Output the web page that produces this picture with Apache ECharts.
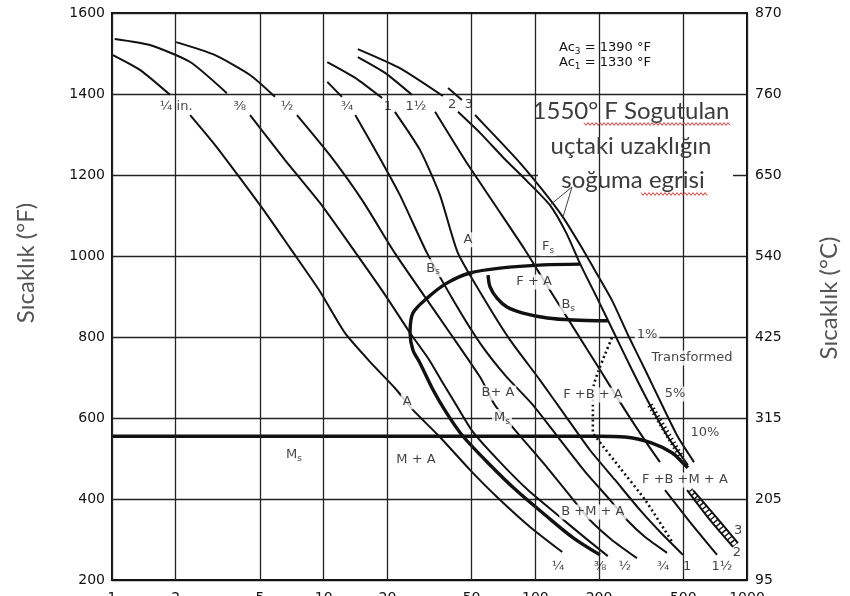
<!DOCTYPE html>
<html>
<head>
<meta charset="utf-8">
<script src="https://cdn.jsdelivr.net/npm/echarts/dist/echarts.min.js"></script>
<style>
  html, body { margin: 0; padding: 0; background: #fff; }
  #chart { width: 850px; height: 596px; }
</style>
</head>
<body>
<div id="chart"></div>
<script>
// Time grid (s, log scale) and °C labels for the right-hand axis
const timeGrid = [1, 2, 5, 10, 20, 50, 100, 200, 500, 1000];
const celsiusLabels = ['95', '205', '315', '425', '540', '650', '760', '870'];

// Jominy cooling curves: [time s, temperature °F], split where a label sits on the curve
const coolQuarter = [
  [[1.01,1496],[1.36,1459],[1.88,1398]],
  [[2.34,1348],[3.07,1274],[4.02,1193],[5.28,1109],[6.93,1020],[9.51,916],[12.6,810],[16.6,738],[21.7,674],[26.4,620],[35.4,553],[49.1,472],[65.9,405],[94.4,331],[134,269]]
];
const coolThreeEighths = [
  [[1.03,1536],[1.51,1521],[2.34,1479],[3.49,1402]],
  [[4.49,1348],[6.57,1237],[9.61,1131],[14.2,1007],[19.5,904],[25.6,810],[31.1,748],[37.0,682],[43.1,625],[50.8,565],[68.1,491],[92.3,422],[127,361],[172,304],[220,259]]
];
const coolHalf = [
  [[2.01,1528],[3.07,1496],[4.49,1447],[5.89,1393]],
  [[7.48,1348],[10.7,1249],[15.2,1138],[21.7,1007],[30.1,899],[39.5,810],[54.8,701],[63.8,635],[68.1,615],[80.2,570],[111,484],[151,398],[181,348],[230,299],[302,254]]
];
const coolThreeQuarter = [
  [[10.4,1430],[12.2,1393]],
  [[14.1,1348],[18.1,1249],[22.9,1151],[30.8,1007],[41.7,884],[54.8,785],[71.9,706],[97.5,632],[131,546],[172,467],[225,398],[271,348],[330,306],[419,267]]
];
const coolOne = [
  [[10.4,1479],[14.1,1440],[18.9,1390]],
  [[21.7,1356],[28.5,1262],[35.4,1151],[43.1,1007],[57.8,891],[75.9,793],[105,694],[138,607],[181,521],[238,447],[312,373],[388,319],[498,262]]
];
const coolOneHalf = [
  [[14.5,1491],[19.5,1452],[26.1,1398]],
  [[33.6,1356],[46.5,1237],[64.5,1126],[89.4,1015],[117,916],[154,817],[202,719],[265,620],[341,533],[388,491]],
  [[410,422],[538,343],[722,262]]
];
const coolTwo = [
  [[14.5,1511],[22.9,1464],[36.6,1395]],
  [[43.1,1356],[54.8,1304],[70.3,1244],[91.3,1185],[117,1126],[140,1057],[163,980],[198,891],[238,805],[286,719],[348,632],[423,553],[526,484]],
  [[521,422],[669,348],[859,282]]
];
const coolThree = [
  [[38.7,1415],[45.0,1385]],
  [[51.9,1348],[65.9,1291],[84.6,1230],[108,1163],[135,1096],[163,1027],[191,965],[230,891],[274,805],[330,719],[397,632],[472,553],[562,491]],
  [[556,422],[714,356],[907,291]]
];

// Transformation boundaries
const bainiteStart = [[163,980],[109,978],[68.1,970],[49.1,958],[38.2,933],[30.8,896],[26.4,859],[25.6,810],[26.4,768],[28.5,736],[32.9,669],[37.8,615],[45.0,558],[59.8,489],[81.0,422],[111,361],[151,304],[202,262]];
const ferriteBainite = [[59.8,953],[61.1,924],[65.9,896],[73.5,874],[87.4,859],[114,847],[151,842],[220,840]];
const martensiteStart = [[1,555],[202,555],[265,553],[356,538],[442,514],[498,489],[526,477]];
const transformedLine = [[230,798],[213,756],[198,714],[189,682],[187,627],[187,566],[198,546],[251,477],[330,398],[447,291]];
const hatchUpper = [[348,632],[493,501]];
const hatchLower = [[538,422],[878,286]];

// Region labels inside the diagram: [time, temp, text]
const regionLabels = [
  [48, 1040, 'A'], [32.9, 970, 'B{s|s}'], [115, 1022, 'F{s|s}'], [98.6, 936, 'F + A'],
  [143, 879, 'B{s|s}'], [337, 805, '1%'], [550, 748, 'Transformed'], [66.6, 662, 'B+ A'],
  [69.6, 600, 'M{s|s}'], [187, 657, 'F +B + A'], [457, 659, '5%'], [24.8, 640, 'A'],
  [7.24, 509, 'M{s|s}'], [27.3, 496, 'M + A'], [633, 563, '10%'], [509, 447, 'F +B +M + A'],
  [187, 368, 'B +M + A']
];
// Distance labels of the cooling curves (top and bottom ends)
const distanceLabels = [
  [2.01, 1368, '¼ in.'], [4.02, 1368, '⅜'], [6.71, 1368, '½'], [12.9, 1368, '¾'],
  [20.1, 1368, '1'], [27.3, 1368, '1½'], [40.4, 1375, '2'], [48.6, 1375, '3'],
  [128, 232, '¼'], [202, 232, '⅜'], [265, 232, '½'], [401, 232, '¾'],
  [521, 232, '1'], [762, 232, '1½'], [897, 267, '2'], [907, 323, '3']
];

const INK = '#111';
const GRID = '#222';
const series = [];

// vertical grid lines with the time labels under the axis
series.push({
  type: 'line', data: [], z: 1, silent: true,
  markLine: {
    silent: true, symbol: ['none', 'none'], animation: false,
    lineStyle: { color: GRID, width: 1.3, type: 'solid' },
    label: { show: true, position: 'start', distance: 11, formatter: '{b}',
             fontFamily: 'DejaVu Sans', fontSize: 14, color: INK },
    data: timeGrid.map(v => ({ xAxis: v, name: String(v) }))
  }
});

function addCurve(segments, width, extra) {
  segments.forEach(seg => {
    series.push(Object.assign({
      type: 'line', data: seg, showSymbol: false, symbol: 'none', smooth: 0.2,
      silent: true, z: 3,
      lineStyle: { color: INK, width: width }
    }, extra || {}));
  });
}

[coolQuarter, coolThreeEighths, coolHalf, coolThreeQuarter, coolOne, coolOneHalf, coolTwo, coolThree]
  .forEach(c => addCurve(c, 2));
addCurve([bainiteStart], 3.4, { smooth: 0.3 });
addCurve([ferriteBainite], 3.4, { smooth: 0.3 });
addCurve([martensiteStart], 3.6, { smooth: 0.4 });
addCurve([transformedLine], 2.6, { lineStyle: { color: INK, width: 2.6, type: [2, 3] } });
addCurve([hatchUpper], 6, { smooth: false, lineStyle: { color: INK, width: 6, type: [1.4, 3] } });
addCurve([hatchLower], 6, { smooth: false, lineStyle: { color: INK, width: 6, type: [1.4, 3] } });

const subRich = { s: { fontSize: 9, fontFamily: 'DejaVu Sans', color: INK, padding: [7, 0, 0, 0] } };

series.push({
  type: 'scatter', symbolSize: 1, z: 6, silent: true,
  itemStyle: { color: 'rgba(0,0,0,0)' },
  data: regionLabels.map(l => ({ value: [l[0], l[1]], name: l[2] })),
  label: {
    show: true, position: 'inside', formatter: p => p.name,
    fontFamily: 'DejaVu Sans', fontSize: 13, color: INK,
    backgroundColor: '#fff', padding: [1, 2], rich: subRich
  }
});
series.push({
  type: 'scatter', symbolSize: 1, z: 6, silent: true,
  itemStyle: { color: 'rgba(0,0,0,0)' },
  data: distanceLabels.map(l => ({ value: [l[0], l[1]], name: l[2] })),
  label: {
    show: true, position: 'inside', formatter: p => p.name,
    fontFamily: 'DejaVu Sans', fontSize: 13, color: INK
  }
});

// red spell-check squiggle under a word
function squiggle(x0, x1, y) {
  const pts = [];
  for (let x = x0, i = 0; x <= x1; x += 2, i++) pts.push([x, y + (i % 2 ? 1.4 : -1.4)]);
  return { type: 'polyline', z: 12, shape: { points: pts }, style: { stroke: '#e23b3b', lineWidth: 1, fill: null } };
}

const annoFont = { fontFamily: 'Lato', fontSize: 24, fill: '#3c3c3c', align: 'center', verticalAlign: 'middle' };
const acRich = { sub: { fontSize: 9, fontFamily: 'DejaVu Sans', fill: INK, padding: [7, 0, 0, 0] } };
const axisNameFont = { fontFamily: 'Lato', fontSize: 24, fill: '#555', align: 'center', verticalAlign: 'middle' };

const option = {
  animation: false,
  backgroundColor: '#fff',
  grid: { left: 112, top: 13, width: 635, height: 567, show: true, borderColor: INK, borderWidth: 2, backgroundColor: 'transparent' },
  xAxis: {
    type: 'log', logBase: 10, min: 1, max: 1000,
    axisLabel: { show: false }, axisTick: { show: false }, splitLine: { show: false },
    axisLine: { lineStyle: { color: INK, width: 2 } }
  },
  yAxis: [
    {
      type: 'value', min: 200, max: 1600, interval: 200, position: 'left',
      axisLine: { show: true, lineStyle: { color: INK, width: 2 } }, axisTick: { show: false },
      axisLabel: { fontFamily: 'DejaVu Sans', fontSize: 14, color: INK, margin: 7, formatter: v => String(v) },
      splitLine: { lineStyle: { color: GRID, width: 1.3 } }
    },
    {
      type: 'value', min: 200, max: 1600, interval: 200, position: 'right',
      axisLine: { show: true, lineStyle: { color: INK, width: 2 } }, axisTick: { show: false },
      axisLabel: { fontFamily: 'DejaVu Sans', fontSize: 14, color: INK, margin: 8,
                   formatter: v => celsiusLabels[Math.round((v - 200) / 200)] },
      splitLine: { show: false }
    }
  ],
  series: series,
  graphic: { elements: [
    // white panel behind the note about the cooling curves
    { type: 'rect', z: 1, shape: { x: 538, y: 97, width: 195, height: 118 }, style: { fill: '#fff' } },
    { type: 'rect', z: 1, shape: { x: 556, y: 38, width: 98, height: 33 }, style: { fill: '#fff' } },
    { type: 'text', z: 12, x: 605, y: 48, style: { text: 'Ac{sub|3} = 1390 °F', rich: acRich, fontFamily: 'DejaVu Sans', fontSize: 13, fill: INK, align: 'center', verticalAlign: 'middle' } },
    { type: 'text', z: 12, x: 605, y: 63, style: { text: 'Ac{sub|1} = 1330 °F', rich: acRich, fontFamily: 'DejaVu Sans', fontSize: 13, fill: INK, align: 'center', verticalAlign: 'middle' } },
    { type: 'text', z: 12, x: 631, y: 111, style: Object.assign({ text: '1550° F Sogutulan' }, annoFont) },
    { type: 'text', z: 12, x: 631, y: 146, style: Object.assign({ text: 'uçtaki uzaklığın' }, annoFont) },
    { type: 'text', z: 12, x: 633, y: 180, style: Object.assign({ text: 'soğuma egrisi' }, annoFont) },
    squiggle(584, 730, 124),
    squiggle(641, 708, 194),
    { type: 'polyline', z: 12, shape: { points: [[550, 205], [572, 187], [563, 217]] }, style: { stroke: '#444', lineWidth: 1, fill: null } },
    { type: 'text', z: 12, x: 26, y: 263, rotation: Math.PI / 2, style: Object.assign({ text: 'Sıcaklık (°F)' }, axisNameFont) },
    { type: 'text', z: 12, x: 829, y: 298, rotation: Math.PI / 2, style: Object.assign({ text: 'Sıcaklık (°C)' }, axisNameFont) }
  ] }
};

const chart = echarts.init(document.getElementById('chart'), null, { renderer: 'canvas' });
chart.setOption(option);
</script>
</body>
</html>
